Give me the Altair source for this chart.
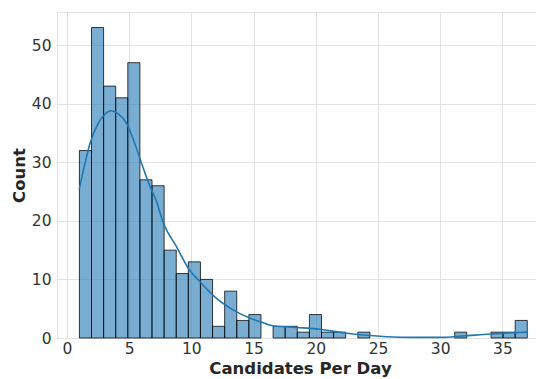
import altair as alt
import pandas as pd

# histogram: 37 equal bins spanning 1 .. 37
bin_start = 1.0
bin_end = 37.0
counts = [32, 53, 43, 41, 47, 27, 26, 15, 11, 13, 10, 2, 8, 3, 4, 0, 2, 2, 1, 4,
          1, 1, 0, 1, 0, 0, 0, 0, 0, 0, 0, 1, 0, 0, 1, 1, 3]

# KDE curve
kde_x = [1.0, 1.45, 1.85, 2.5, 3.05, 3.55, 4.1, 4.8, 5.45, 6.0, 6.65, 7.2, 7.7,
         8.8, 9.85, 10.7, 12.0, 13.35, 14.7, 15.5, 16.6, 18.45, 20.3, 22.2,
         24.1, 25.7, 27.8, 30.0, 31.8, 34.0, 35.9, 37.0]
kde_y = [25.5, 29.8, 33.2, 36.6, 38.2, 38.8, 38.3, 36.6, 33.2, 29.8, 26.0, 23.3,
         19.9, 15.6, 11.6, 9.6, 6.8, 4.8, 3.4, 2.8, 2.05, 1.8, 1.5, 0.9, 0.46,
         0.22, 0.1, 0.1, 0.34, 0.68, 0.9, 1.0]

x_ticks = [0, 5, 10, 15, 20, 25, 30, 35]
y_ticks = [0, 10, 20, 30, 40, 50]

n_bins = len(counts)
w = (bin_end - bin_start) / n_bins
bars = pd.DataFrame({
    "lo": [bin_start + i * w for i in range(n_bins)],
    "hi": [bin_start + (i + 1) * w for i in range(n_bins)],
    "count": counts,
})
bars = bars[bars["count"] > 0]
kde = pd.DataFrame({"x": kde_x, "y": kde_y})

FONT = "DejaVu Sans"
xscale = alt.Scale(domain=[-0.8, 37.7], nice=False, zero=False)
yscale = alt.Scale(domain=[0, 55.65], nice=False)

xaxis = alt.Axis(values=x_ticks, title="Candidates Per Day", titleX=243, titleY=35,
                 titleBaseline="alphabetic", titleAlign="center", labelPadding=3)
yaxis = alt.Axis(values=y_ticks, title="Count", titleX=-32.5, titleY=163,
                 titleAngle=-90, titleBaseline="alphabetic", titleAlign="center",
                 labelPadding=6)

hist = alt.Chart(bars).mark_rect(
    fill="#1f77b4", fillOpacity=0.6, stroke="#000000", strokeOpacity=0.75, strokeWidth=1
).encode(
    x=alt.X("lo:Q", scale=xscale, axis=xaxis),
    x2="hi:Q",
    y=alt.Y("count:Q", scale=yscale, axis=yaxis),
    y2=alt.datum(0),
)

line = alt.Chart(kde).mark_line(color="#1f77b4", strokeWidth=1.6, interpolate="monotone").encode(
    x=alt.X("x:Q", scale=xscale),
    y=alt.Y("y:Q", scale=yscale),
)

chart = alt.layer(hist, line).properties(
    width=479, height=326,
    autosize=alt.AutoSizeParams(type="none"),
    padding={"left": 49, "top": 4, "right": 0, "bottom": 39},
).configure_view(
    stroke="#e3e3e3", strokeWidth=1
).configure_axis(
    grid=True, gridColor="#e3e3e3", gridWidth=1, domain=False, ticks=False,
    labelFont=FONT, labelFontSize=15.5, labelColor="#333333",
    titleFont=FONT, titleFontSize=16.5, titleFontWeight="bold", titleColor="#262626",
)

chart.save("out.html", embed_options={"renderer": "svg", "actions": False})
